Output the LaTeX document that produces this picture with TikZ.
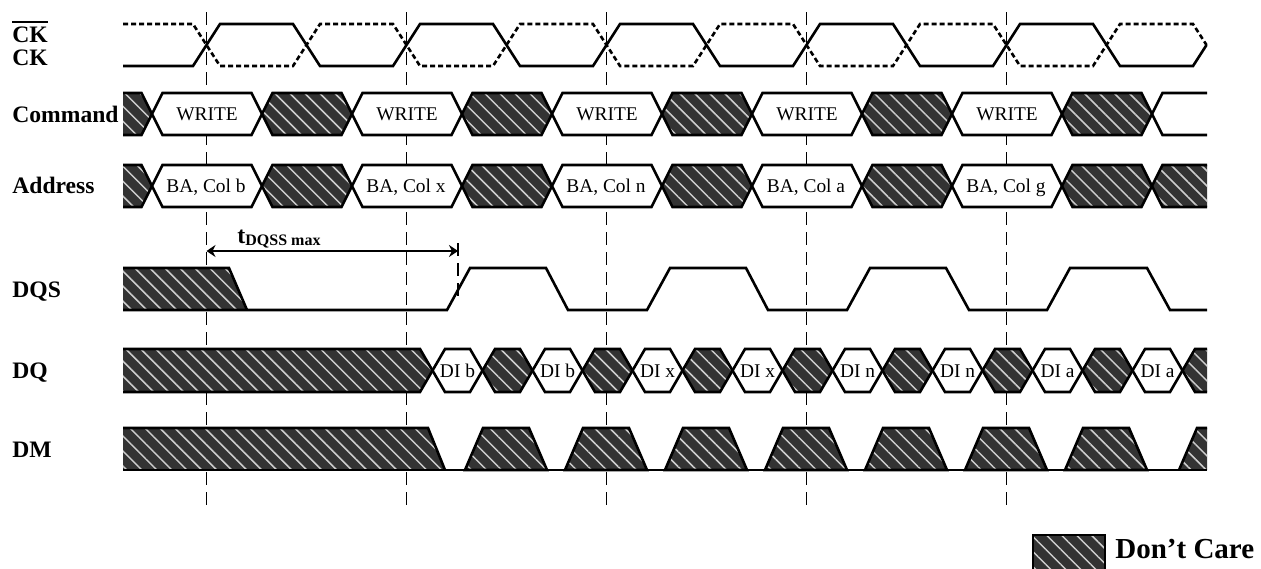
\documentclass[tikz,border=0pt]{standalone}
\usepackage{fontspec}
\setmainfont{Liberation Serif}
\usetikzlibrary{patterns.meta,arrows.meta}
\definecolor{dcgray}{RGB}{51,51,51}
\definecolor{stripe}{RGB}{205,205,205}
\tikzset{
  sig/.style={line width=1.3pt},
  dcfill/.style={preaction={fill=dcgray}, pattern={Lines[angle=-45,distance=5.3pt,line width=0.75pt]}, pattern color=stripe},
  clkline/.style={line width=0.9pt, dash pattern=on 6.5pt off 3.5pt},
  cknline/.style={line width=1.3pt, dash pattern=on 2.5pt off 1.5pt},
  arrline/.style={line width=1pt},
  lbl/.style={font=\fontsize{11.8}{12}\selectfont\bfseries, anchor=base west, inner sep=0pt},
  htxt/.style={font=\fontsize{9.7}{10}\selectfont, anchor=base, inner sep=0pt},
}
\newcommand{\mkhex}[7]{\path[#7] (#1,#5) -- ({#1+#6},#3) -- ({#2-#6},#3) -- (#2,#5) -- ({#2-#6},#4) -- ({#1+#6},#4) -- cycle;}
\begin{document}
\begin{tikzpicture}[x=0.5pt,y=-0.5pt]
\path[use as bounding box] (0,0) rectangle (1261,568);
\clip (0,0) rectangle (1261,568);

% clock reference lines
\foreach \k in {0,...,4} {
  \coordinate (vt\k) at ({206.5+200*\k},12);
  \coordinate (vb\k) at ({206.5+200*\k},510);
  \draw[clkline] (vt\k) -- (vb\k);
}

% labels
\node[lbl] (ckbar) at (12,42) {CK};
\draw[line width=0.9pt] ([yshift=1.8pt]ckbar.north west) -- ([yshift=1.8pt]ckbar.north east);
\node[lbl] (ck) at (12,65) {CK};
\node[lbl] (cmd) at (12,122) {Command};
\node[lbl] (addr) at (12,193.5) {Address};
\node[lbl] (dqs) at (12,297) {DQS};
\node[lbl] (dq) at (12,378) {DQ};
\node[lbl] (dm) at (12,457.5) {DM};

% CK and CK#
\draw[sig] (123,66) -- (193,66) -- (220,24) -- (293,24) -- (320,66) -- (393,66) -- (420,24) -- (493,24) -- (520,66) -- (593,66) -- (620,24) -- (693,24) -- (720,66) -- (793,66) -- (820,24) -- (893,24) -- (920,66) -- (993,66) -- (1020,24) -- (1093,24) -- (1120,66) -- (1193,66) -- (1206.5,45);
\draw[cknline] (123,24) -- (193,24) -- (220,66) -- (293,66) -- (320,24) -- (393,24) -- (420,66) -- (493,66) -- (520,24) -- (593,24) -- (620,66) -- (693,66) -- (720,24) -- (793,24) -- (820,66) -- (893,66) -- (920,24) -- (993,24) -- (1020,66) -- (1093,66) -- (1120,24) -- (1193,24) -- (1206.5,45);

% Command
\fill[dcfill] (123,93) -- (141.5,93) -- (152,114) -- (141.5,135) -- (123,135) -- cycle;
\draw[sig] (123,93) -- (141.5,93) -- (152,114) -- (141.5,135) -- (123,135);
\foreach \k in {0,...,4} {
  \pgfmathsetmacro\a{152+200*\k}
  \pgfmathsetmacro\b{262+200*\k}
  \pgfmathsetmacro\c{352+200*\k}
  \mkhex{\a}{\b}{93}{135}{114}{10.5}{sig,draw,fill=white}
  \mkhex{\b}{\c}{93}{135}{114}{10.5}{sig,draw,dcfill}
  \node[htxt] (cmdw\k) at ({207+200*\k},120.4) {WRITE};
}
\draw[sig] (1207,93) -- (1162.5,93) -- (1152,114) -- (1162.5,135) -- (1207,135);

% Address
\fill[dcfill] (123,165) -- (141.5,165) -- (152,186) -- (141.5,207) -- (123,207) -- cycle;
\draw[sig] (123,165) -- (141.5,165) -- (152,186) -- (141.5,207) -- (123,207);
\foreach \lab [count=\k from 0] in {b,x,n,a,g} {
  \pgfmathsetmacro\a{152+200*\k}
  \pgfmathsetmacro\b{262+200*\k}
  \pgfmathsetmacro\c{352+200*\k}
  \mkhex{\a}{\b}{165}{207}{186}{10.5}{sig,draw,fill=white}
  \mkhex{\b}{\c}{165}{207}{186}{10.5}{sig,draw,dcfill}
  \node[htxt] (adr\k) at ({206+200*\k},192.4) {BA, Col \lab};
}
\fill[dcfill] (1207,165) -- (1162.5,165) -- (1152,186) -- (1162.5,207) -- (1207,207) -- cycle;
\draw[sig] (1207,165) -- (1162.5,165) -- (1152,186) -- (1162.5,207) -- (1207,207);

% tDQSS
\coordinate (ta) at (206.5,251);
\coordinate (tb) at (458,251);
\draw[arrline,{Stealth[length=4.5pt,width=6pt]}-{Stealth[length=4.5pt,width=6pt]}] (ta) -- (tb);
\coordinate (mt) at (458,243);
\coordinate (mb) at (458,300);
\draw[clkline] (mt) -- (mb);
\node[anchor=base west, inner sep=0pt] (tdqss) at (237,243) {\fontsize{12}{12}\selectfont\bfseries t\raisebox{-1pt}{\fontsize{8}{8}\selectfont\bfseries DQSS max}};

% DQS
\fill[dcfill] (123,268) -- (229,268) -- (247,310) -- (123,310) -- cycle;
\draw[sig] (123,268) -- (229,268) -- (247,310);
\draw[sig] (123,310) -- (447,310) -- (470,268) -- (546,268) -- (568,310) -- (647,310) -- (670,268) -- (746,268) -- (768,310) -- (847,310) -- (870,268) -- (946,268) -- (969,310) -- (1047,310) -- (1070,268) -- (1147,268) -- (1170,310) -- (1207,310);

% DQ
\fill[dcfill] (123,349) -- (420,349) -- (432.5,370.5) -- (420,392) -- (123,392) -- cycle;
\draw[sig] (123,349) -- (420,349) -- (432.5,370.5) -- (420,392) -- (123,392);
\foreach \lab [count=\k from 0] in {b,b,x,x,n,n,a,a} {
  \pgfmathsetmacro\a{432.5+100*\k}
  \pgfmathsetmacro\b{482.5+100*\k}
  \mkhex{\a}{\b}{349}{392}{370.5}{12.5}{sig,draw,fill=white}
  \node[htxt] (dqd\k) at ({457.5+100*\k},377) {DI \lab};
}
\foreach \k in {0,...,6} {
  \pgfmathsetmacro\a{482.5+100*\k}
  \pgfmathsetmacro\b{532.5+100*\k}
  \mkhex{\a}{\b}{349}{392}{370.5}{12.5}{sig,draw,dcfill}
}
\fill[dcfill] (1207,349) -- (1195,349) -- (1182.5,370.5) -- (1195,392) -- (1207,392) -- cycle;
\draw[sig] (1207,349) -- (1195,349) -- (1182.5,370.5) -- (1195,392) -- (1207,392);

% DM
\fill[dcfill] (123,428) -- (428,428) -- (445,470) -- (123,470) -- cycle;
\foreach \k in {0,...,6} {
  \pgfmathsetmacro\a{465+100*\k}
  \path[sig,draw,dcfill] (\a,470) -- ({\a+18},428) -- ({\a+64},428) -- ({\a+82},470) -- cycle;
}
\fill[dcfill] (1179,470) -- (1197,428) -- (1207,428) -- (1207,470) -- cycle;
\draw[sig] (123,428) -- (428,428) -- (445,470);
\draw[sig] (1179,470) -- (1197,428) -- (1207,428);
\draw[sig] (123,470) -- (1207,470);

% legend
\path[sig,draw,dcfill] (1033,535) rectangle (1105,575);
\node[anchor=base west, inner sep=0pt, font=\fontsize{14.5}{15}\selectfont\bfseries] (dclab) at (1115,558) {Don’t Care};
\end{tikzpicture}
\end{document}
